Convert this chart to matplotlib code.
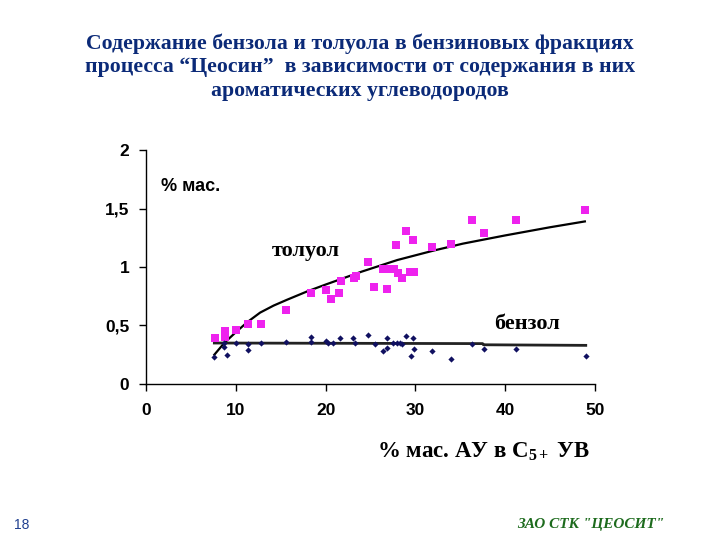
import matplotlib
matplotlib.use('Agg')
import matplotlib.pyplot as plt

# toluene (pink squares)
tol_x = [7.7, 8.8, 8.8, 10.0, 11.3, 12.8, 15.6, 18.4, 20.1, 20.6, 21.5, 21.7, 23.2, 23.4,
         24.7, 25.4, 26.4, 26.8, 26.8, 27.6, 27.9, 28.1, 28.5, 29.0, 29.4, 29.7, 29.9,
         31.9, 34.0, 36.3, 37.7, 41.2, 48.9]
tol_y = [0.39, 0.45, 0.40, 0.46, 0.51, 0.51, 0.63, 0.78, 0.80, 0.73, 0.78, 0.88, 0.91, 0.92,
         1.04, 0.83, 0.98, 0.98, 0.81, 0.98, 1.19, 0.95, 0.91, 1.31, 0.96, 1.23, 0.96,
         1.17, 1.20, 1.40, 1.29, 1.40, 1.49]

# benzene (dark blue diamonds)
ben_x = [7.6, 8.7, 8.7, 9.0, 10.0, 11.4, 11.4, 12.8, 15.6, 18.4, 18.4, 20.0, 20.3, 20.8,
         21.6, 23.1, 23.3, 24.7, 25.5, 26.4, 26.8, 26.8, 27.5, 28.0, 28.3, 28.5, 29.0,
         29.7, 29.9, 29.5, 31.9, 34.0, 36.3, 37.7, 41.2, 49.0]
ben_y = [0.23, 0.35, 0.32, 0.25, 0.35, 0.34, 0.29, 0.35, 0.36, 0.40, 0.36, 0.37, 0.35, 0.35,
         0.39, 0.39, 0.35, 0.42, 0.34, 0.28, 0.31, 0.39, 0.35, 0.35, 0.35, 0.34, 0.41,
         0.39, 0.30, 0.24, 0.28, 0.21, 0.34, 0.30, 0.30, 0.24]

# trend lines as drawn in the picture
tol_trend_x = [7.6, 8.7, 10.1, 11.3, 12.7, 14.2, 15.7, 17.9, 20, 24, 28, 32, 35.3, 40, 45, 48.9]
tol_trend_y = [0.25, 0.35, 0.45, 0.53, 0.61, 0.67, 0.72, 0.79, 0.85, 0.96, 1.06, 1.14, 1.20,
               1.27, 1.34, 1.39]
ben_trend_x = [7.6, 37.5, 37.6, 49.0]
ben_trend_y = [0.35, 0.345, 0.335, 0.33]

x_ticks = [0, 10, 20, 30, 40, 50]
y_ticks = [0, 0.5, 1, 1.5, 2]
y_tick_labels = ['0', '0,5', '1', '1,5', '2']

plt.rcParams['mathtext.fontset'] = 'custom'
plt.rcParams['mathtext.rm'] = 'Liberation Serif:bold'
plt.rcParams['mathtext.it'] = 'Liberation Serif:bold'

fig = plt.figure(figsize=(7.2, 5.4), dpi=100)
ax = fig.add_axes([0.203, 0.289, 0.623, 0.433])

ax.plot(tol_trend_x, tol_trend_y, color='black', lw=1.6, zorder=2)
ax.plot(ben_trend_x, ben_trend_y, color='#222222', lw=2.0, zorder=2)
ax.scatter(tol_x, tol_y, marker='s', s=28, color='#ee22ee', zorder=3, linewidths=0)
ax.scatter(ben_x, ben_y, marker='D', s=10, color='#101060', zorder=4, linewidths=0)

ax.set_xlim(0, 50)
ax.set_ylim(0, 2)
ax.set_xticks(x_ticks)
ax.set_yticks(y_ticks)
ax.set_yticklabels(y_tick_labels)
for s in ['top', 'right']:
    ax.spines[s].set_visible(False)
for s in ['left', 'bottom']:
    ax.spines[s].set_linewidth(1.0)
ax.tick_params(direction='out', length=5, width=1)
ax.tick_params(axis='x', pad=9)
ax.tick_params(axis='y', pad=7)
for lbl in ax.get_xticklabels() + ax.get_yticklabels():
    lbl.set_fontfamily('Liberation Sans')
    lbl.set_fontweight('bold')
    lbl.set_fontsize(12.5)

ax.text(1.7, 1.69, '% мас.', family='Liberation Sans', weight='bold', fontsize=13,
        va='center', ha='left')
ax.text(17.8, 1.14, 'толуол', family='Liberation Serif', weight='bold', fontsize=16,
        ha='center', va='center')
ax.text(42.4, 0.51, 'бензол', family='Liberation Serif', weight='bold', fontsize=16,
        ha='center', va='center')

fig.text(0.672, 0.163, '% мас. АУ в C$_{5+}$ УВ', family='Liberation Serif',
         weight='bold', fontsize=16.5, ha='center', va='center')

title = ('Содержание бензола и толуола в бензиновых фракциях\n'
         'процесса “Цеосин”  в зависимости от содержания в них\n'
         'ароматических углеводородов')
fig.text(0.5, 0.876, title, family='Liberation Serif', weight='bold', fontsize=15.7,
         color='#0b2a78', ha='center', va='center', linespacing=1.24)

fig.text(0.02, 0.028, '18', family='Liberation Sans', fontsize=10, color='#1f3f8f',
         ha='left', va='center')
fig.text(0.82, 0.028, 'ЗАО СТК "ЦЕОСИТ"', family='Liberation Serif', weight='bold',
         style='italic', fontsize=11, color='#1d6b1d', ha='center', va='center')

fig.savefig('out.png', dpi=100)
